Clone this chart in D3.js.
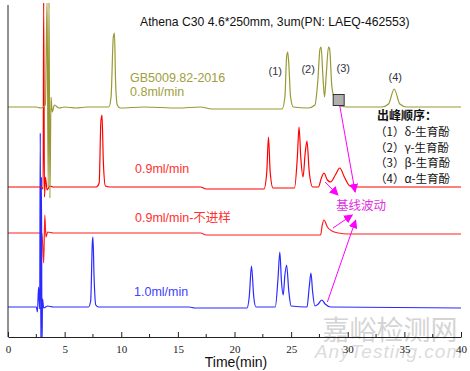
<!DOCTYPE html>
<html>
<head>
<meta charset="utf-8">
<script src="https://cdn.jsdelivr.net/npm/d3@7"></script>
<style>
  body { margin: 0; background: #fff; }
  svg { display: block; font-family: Arial, "Liberation Sans", sans-serif; }
</style>
</head>
<body>
<svg id="chart" width="470" height="371"></svg>
<script>
// time axis ticks
var xTicks = [0, 5, 10, 15, 20, 25, 30, 35, 40];

// traces: [time(min), signal]
var olive08 = [[0,230],[2.5,230],[2.9,229],[3.3,232],[3.45,337],[3.55,150],[3.62,337],[3.7,139],[3.8,240],[3.9,225],[4.1,232],[4.5,229],[5,230],[6,229],[7,230],[8.9,230],[9.1,240],[9.3,300],[9.4,304],[9.5,255],[9.65,232],[9.9,229],[12,230],[15,229],[17,230],[18,228],[22,228],[24.2,228],[24.45,240],[24.6,280],[24.7,285],[24.8,272],[24.95,240],[25.2,230],[26.5,229],[27.1,232],[27.35,255],[27.55,288],[27.65,290],[27.8,262],[27.95,240],[28.1,262],[28.3,290],[28.4,288],[28.6,250],[28.9,236],[29.3,231],[30,230],[33,230],[33.6,233],[34.1,248],[34.6,233],[35.2,230],[40,230]];
var red09 = [[0,150],[2.9,150],[3.1,148],[3.15,337],[3.22,140],[3.3,160],[3.45,147],[3.7,151],[4,150],[7.8,150],[8.05,154],[8.2,215],[8.3,222],[8.42,175],[8.6,151],[9,150],[17,150],[17.5,148],[22.6,148],[22.85,165],[23.0,200],[23.15,165],[23.4,149],[25.3,149],[25.55,180],[25.7,210],[25.85,180],[26.05,160],[26.25,185],[26.4,196],[26.6,165],[26.9,150],[27.4,150],[27.7,160],[27.9,164],[28.2,157],[28.5,155],[28.9,162],[29.3,169],[29.7,160],[30.2,151],[30.8,150],[40,150]];
var red09blank = [[0,104],[3.0,104],[3.15,74],[3.25,122],[3.35,100],[3.5,105],[4,104],[17,104],[17.5,102],[27.6,102],[27.75,112],[27.9,117],[28.2,110],[28.6,106],[29.2,104],[30,103],[40,103]];
var blue10 = [[0,30],[2.5,30],[2.6,25],[2.7,50],[2.8,28],[2.85,204],[2.9,-10],[2.95,160],[3.0,-10],[3.05,38],[3.15,29],[3.5,31],[4,30],[7.1,30],[7.3,36],[7.45,95],[7.5,100],[7.6,60],[7.75,32],[8,30],[16,30],[16.5,29],[21.1,29],[21.3,40],[21.5,71],[21.7,40],[21.9,30],[23.6,30],[23.85,60],[24.0,85],[24.15,55],[24.3,42],[24.45,62],[24.6,72],[24.8,45],[25.0,31],[26.4,30],[26.6,50],[26.75,64],[26.9,45],[27.1,31],[27.4,33],[27.7,37],[28.0,33],[28.5,30],[40,29]];

// peak labels on the 0.8 ml/min trace
var peakLabels = [["(1)", 23.6, 262], ["(2)", 26.5, 264], ["(3)", 29.6, 265], ["(4)", 34.2, 256]];

// elution order legend
var legendTitle = "出峰顺序：";
var legendItems = ["（1）δ-生育酚", "（2）γ-生育酚", "（3）β-生育酚", "（4）α-生育酚"];

// baseline fluctuation arrows: [from t, from v, to t, to v]
var arrows = [[29.3,231,30.65,145],[28.0,155,29.14,142],[28.7,109,30.4,122],[28.2,35,30.7,117]];

var svg = d3.select('#chart');
var x = d3.scaleLinear().domain([0, 40]).range([8, 461]);
var y = d3.scaleLinear().domain([0, 332]).range([337, 5]);

svg.append('defs').append('clipPath').attr('id', 'plotClip')
  .append('rect').attr('x', 8).attr('y', 3).attr('width', 455).attr('height', 334);

var marker = svg.select('defs').append('marker')
  .attr('id', 'arrowHead').attr('viewBox', '0 0 10 10')
  .attr('refX', 9).attr('refY', 5)
  .attr('markerWidth', 9).attr('markerHeight', 9)
  .attr('markerUnits', 'userSpaceOnUse')
  .attr('orient', 'auto');
marker.append('path').attr('d', 'M0,0 L10,5 L0,10 z').attr('fill', '#ff00ff');

// watermark
svg.append('text').attr('x', 390).attr('y', 340).attr('text-anchor', 'middle')
  .attr('font-family', '"Noto Sans CJK SC", sans-serif').attr('font-size', 27)
  .attr('fill', '#d4d4d4').text('嘉峪检测网');
svg.append('text').attr('x', 389).attr('y', 358).attr('text-anchor', 'middle')
  .attr('font-size', 19).attr('font-style', 'italic').attr('letter-spacing', 1)
  .attr('fill', '#dcdcdc').text('AnyTesting.com');

var line = d3.line()
  .x(function(d){ return x(d[0]); })
  .y(function(d){ return y(d[1]); })
  .curve(d3.curveMonotoneX);

var traces = [
  { data: red09blank, color: '#ff2020' },
  { data: blue10, color: '#2a2aff' },
  { data: red09, color: '#ff0000' },
  { data: olive08, color: '#999933' }
];

svg.append('g').attr('clip-path', 'url(#plotClip)')
  .selectAll('path').data(traces).enter().append('path')
  .attr('d', function(d){ return line(d.data); })
  .attr('fill', 'none')
  .attr('stroke', function(d){ return d.color; })
  .attr('stroke-width', 1.2);

// axes
var xAxis = d3.axisBottom(x).tickValues(xTicks).tickSizeInner(-5).tickSizeOuter(0).tickPadding(8);
var gx = svg.append('g').attr('transform', 'translate(0,337)').call(xAxis);
gx.select('.domain').attr('stroke', '#222');
gx.selectAll('.tick line').attr('stroke', '#222');
gx.selectAll('.tick text').attr('font-family', '"Liberation Serif", "DejaVu Serif", serif')
  .attr('font-size', 11).attr('fill', '#222');
gx.selectAll('.minor').data(d3.range(2.5, 40, 5)).enter().append('line')
  .attr('x1', function(d){ return x(d); }).attr('x2', function(d){ return x(d); })
  .attr('y1', 0).attr('y2', -3).attr('stroke', '#222');

svg.append('line').attr('x1', 8).attr('x2', 8).attr('y1', 5).attr('y2', 337)
  .attr('stroke', '#222');

svg.append('text').attr('x', 236).attr('y', 367).attr('text-anchor', 'middle')
  .attr('font-size', 14).attr('fill', '#111').text('Time(min)');

// title
svg.append('text').attr('x', 140).attr('y', 26).attr('font-size', 12.2).attr('fill', '#111')
  .text('Athena C30 4.6*250mm, 3um(PN: LAEQ-462553)');

// trace labels
var traceLabels = [
  { text: 'GB5009.82-2016', x: 130, y: 82, color: '#a0a040' },
  { text: '0.8ml/min', x: 130, y: 96, color: '#a0a040' },
  { text: '0.9ml/min', x: 135, y: 173, color: '#ff3030' },
  { text: '0.9ml/min-不进样', x: 135, y: 222, color: '#ff3030' },
  { text: '1.0ml/min', x: 134, y: 296, color: '#4040ff' }
];
svg.selectAll('.tlabel').data(traceLabels).enter().append('text')
  .attr('class', 'tlabel')
  .attr('x', function(d){ return d.x; }).attr('y', function(d){ return d.y; })
  .attr('font-family', 'Arial, "Noto Sans CJK SC", sans-serif')
  .attr('font-size', 12.5).attr('fill', function(d){ return d.color; })
  .text(function(d){ return d.text; });

svg.selectAll('.plabel').data(peakLabels).enter().append('text')
  .attr('class', 'plabel')
  .attr('x', function(d){ return x(d[1]); }).attr('y', function(d){ return y(d[2]); })
  .attr('text-anchor', 'middle').attr('font-size', 11).attr('fill', '#333340')
  .text(function(d){ return d[0]; });

// gray marker square on peak (3) tail
svg.append('rect').attr('x', x(29.2) - 5.5).attr('y', y(237) - 5.5)
  .attr('width', 11).attr('height', 11)
  .attr('fill', '#b0b0b0').attr('stroke', '#333').attr('stroke-width', 1);

// legend
svg.append('text').attr('x', 377).attr('y', 120)
  .attr('font-family', '"Noto Sans CJK SC", sans-serif').attr('font-weight', 'bold')
  .attr('font-size', 12).attr('fill', '#111').text(legendTitle);
svg.selectAll('.legend').data(legendItems).enter().append('text')
  .attr('class', 'legend')
  .attr('x', 375).attr('y', function(d, i){ return 136 + i * 15.5; })
  .attr('font-family', '"Noto Sans CJK SC", sans-serif')
  .attr('font-size', 11.5).attr('fill', '#111')
  .text(function(d){ return d; });

// baseline fluctuation
svg.selectAll('.arrow').data(arrows).enter().append('line')
  .attr('class', 'arrow')
  .attr('x1', function(d){ return x(d[0]); }).attr('y1', function(d){ return y(d[1]); })
  .attr('x2', function(d){ return x(d[2]); }).attr('y2', function(d){ return y(d[3]); })
  .attr('stroke', '#ff00ff').attr('stroke-width', 1)
  .attr('marker-end', 'url(#arrowHead)');

svg.append('text').attr('x', 336).attr('y', 210)
  .attr('font-family', '"Noto Sans CJK SC", sans-serif')
  .attr('font-size', 12.5).attr('fill', '#e030e0').text('基线波动');
</script>
</body>
</html>
